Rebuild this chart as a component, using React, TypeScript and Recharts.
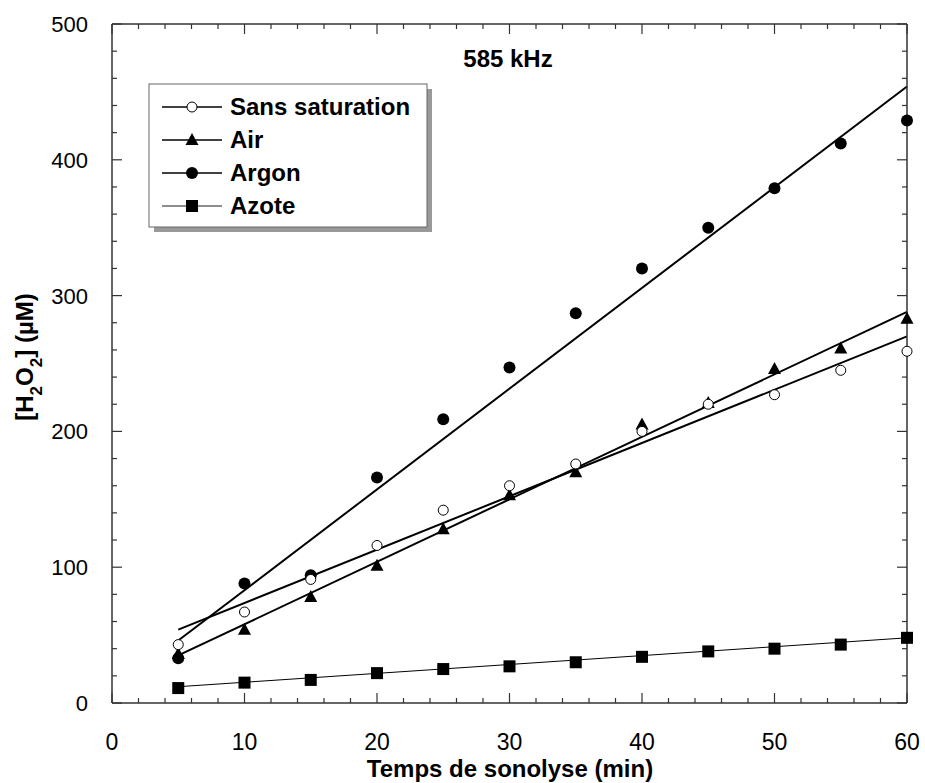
import {
  ComposedChart,
  Line,
  Scatter,
  XAxis,
  YAxis,
  Customized,
} from 'recharts';

// sonolysis time (min)
const times = [5, 10, 15, 20, 25, 30, 35, 40, 45, 50, 55, 60];

// [H2O2] (µM) per gas
const sansSaturation = [43, 67, 91, 116, 142, 160, 176, 200, 220, 227, 245, 259];
const air = [36, 54, 78, 101, 128, 153, 170, 205, 221, 246, 261, 283];
const argon = [33, 88, 94, 166, 209, 247, 287, 320, 350, 379, 412, 429];
const azote = [11, 15, 17, 22, 25, 27, 30, 34, 38, 40, 43, 48];

// linear fits, drawn between first and last time
const fitTimes = [5, 60];
const sansSaturationFit = [54, 270];
const airFit = [35, 288];
const argonFit = [46, 454];
const azoteFit = [12, 48];

const xMajor = [0, 10, 20, 30, 40, 50, 60];
const xMinor = [0, 2, 4, 6, 8, 10, 12, 14, 16, 18, 20, 22, 24, 26, 28, 30, 32, 34, 36, 38, 40, 42, 44, 46, 48, 50, 52, 54, 56, 58, 60];
const yMajor = [0, 100, 200, 300, 400, 500];
const yMinor = [0, 20, 40, 60, 80, 100, 120, 140, 160, 180, 200, 220, 240, 260, 280, 300, 320, 340, 360, 380, 400, 420, 440, 460, 480, 500];

const X_MIN = 0;
const X_MAX = 60;
const Y_MIN = 0;
const Y_MAX = 500;

const FONT = '"Liberation Sans", Arial, sans-serif';
const INK = '#000';
const FRAME = '#333';

const toPoints = (xs: number[], ys: number[]) => xs.map((x, i) => ({ x, y: ys[i] }));

// inward tick marks, placed on the frame through the axis scales
const bottomTicks = xMinor.map((x) => ({ x, y: Y_MIN, major: x % 10 === 0 }));
const topTicks = xMinor.map((x) => ({ x, y: Y_MAX, major: x % 10 === 0 }));
const leftTicks = yMinor.map((y) => ({ x: X_MIN, y, major: y % 100 === 0 }));
const rightTicks = yMinor.map((y) => ({ x: X_MAX, y, major: y % 100 === 0 }));

const tickLen = (major: boolean) => (major ? 10 : 5);
const UpTick = ({ cx, cy, payload }: any) => (
  <line x1={cx} x2={cx} y1={cy} y2={cy - tickLen(payload.major)} stroke={FRAME} strokeWidth={1.2} />
);
const DownTick = ({ cx, cy, payload }: any) => (
  <line x1={cx} x2={cx} y1={cy} y2={cy + tickLen(payload.major)} stroke={FRAME} strokeWidth={1.2} />
);
const RightwardTick = ({ cx, cy, payload }: any) => (
  <line x1={cx} x2={cx + tickLen(payload.major)} y1={cy} y2={cy} stroke={FRAME} strokeWidth={1.2} />
);
const LeftwardTick = ({ cx, cy, payload }: any) => (
  <line x1={cx} x2={cx - tickLen(payload.major)} y1={cy} y2={cy} stroke={FRAME} strokeWidth={1.2} />
);

const BottomLabel = (props: any) => {
  const { x, y, payload } = props;
  return (
    <text x={x} y={y + 47} textAnchor="middle" fontFamily={FONT} fontSize={23} fill={INK}>
      {payload.value}
    </text>
  );
};

const LeftLabel = (props: any) => {
  const { x, y, payload } = props;
  return (
    <text x={x - 24} y={y + 8} textAnchor="end" fontFamily={FONT} fontSize={22} fill={INK}>
      {payload.value}
    </text>
  );
};

const OpenCircle = ({ cx, cy }: any) => (
  <circle cx={cx} cy={cy} r={5} fill="#fff" stroke={INK} strokeWidth={1} />
);
const FilledCircle = ({ cx, cy }: any) => <circle cx={cx} cy={cy} r={6} fill={INK} />;
const Triangle = ({ cx, cy }: any) => (
  <path d={`M${cx},${cy - 7} L${cx + 6.5},${cy + 5} L${cx - 6.5},${cy + 5} Z`} fill={INK} />
);
const Square = ({ cx, cy }: any) => (
  <rect x={cx - 6} y={cy - 6} width={12} height={12} fill={INK} />
);

const legendRows = [
  { label: 'Sans saturation', Marker: OpenCircle, width: 1.6 },
  { label: 'Air', Marker: Triangle, width: 1.6 },
  { label: 'Argon', Marker: FilledCircle, width: 1.6 },
  { label: 'Azote', Marker: Square, width: 0.9 },
];

const Decorations = () => (
  <g>
    <text x={508} y={67} textAnchor="middle" fontFamily={FONT} fontWeight="bold" fontSize={24} fill={INK}>
      585 kHz
    </text>

    <text x={510} y={777} textAnchor="middle" fontFamily={FONT} fontWeight="bold" fontSize={24} fill={INK}>
      Temps de sonolyse (min)
    </text>

    <text
      transform="translate(33, 357) rotate(-90)"
      textAnchor="middle"
      fontFamily={FONT}
      fontWeight="bold"
      fontSize={24}
      fill={INK}
    >
      [H<tspan dy={9} fontSize={17}>2</tspan>
      <tspan dy={-9}>O</tspan>
      <tspan dy={9} fontSize={17}>2</tspan>
      <tspan dy={-9}>] (µM)</tspan>
    </text>

    <rect x={154} y={89} width={278} height={143} fill="#999" />
    <rect x={149} y={84} width={278} height={143} fill="#fff" stroke="#666" strokeWidth={1} />
    {legendRows.map(({ label, Marker, width }, i) => {
      const cy = 107 + i * 33;
      return (
        <g key={label}>
          <line x1={162} x2={222} y1={cy} y2={cy} stroke={INK} strokeWidth={width} />
          <Marker cx={192} cy={cy} />
          <text x={230} y={cy + 8} fontFamily={FONT} fontWeight="bold" fontSize={24} fill={INK}>
            {label}
          </text>
        </g>
      );
    })}
  </g>
);

const axisLine = { stroke: FRAME, strokeWidth: 1.5 };

export default function App() {
  return (
    <div style={{ position: 'absolute', left: 0, top: 0, width: 925, height: 783, background: '#fff' }}>
      <ComposedChart width={925} height={783} margin={{ top: 23, right: 17, bottom: 30, left: 52 }}>
        <XAxis xAxisId="b" dataKey="x" type="number" domain={[X_MIN, X_MAX]} ticks={xMajor} interval={0}
          height={50} tickSize={0} tickMargin={0} tickLine={false} axisLine={axisLine} tick={<BottomLabel />} />
        <XAxis xAxisId="t" orientation="top" dataKey="x" type="number" domain={[X_MIN, X_MAX]} ticks={xMajor} interval={0}
          height={1} tickSize={0} tickLine={false} axisLine={axisLine} tick={false} />
        <YAxis yAxisId="l" type="number" domain={[Y_MIN, Y_MAX]} ticks={yMajor} interval={0}
          width={60} tickSize={0} tickMargin={0} tickLine={false} axisLine={axisLine} tick={<LeftLabel />} />
        <YAxis yAxisId="r" orientation="right" type="number" domain={[Y_MIN, Y_MAX]} ticks={yMajor} interval={0}
          width={1} tickSize={0} tickLine={false} axisLine={axisLine} tick={false} />

        <Scatter xAxisId="b" yAxisId="l" data={bottomTicks} dataKey="y" shape={UpTick} isAnimationActive={false} />
        <Scatter xAxisId="b" yAxisId="l" data={leftTicks} dataKey="y" shape={RightwardTick} isAnimationActive={false} />
        <Scatter xAxisId="t" yAxisId="r" data={topTicks} dataKey="y" shape={DownTick} isAnimationActive={false} />
        <Scatter xAxisId="t" yAxisId="r" data={rightTicks} dataKey="y" shape={LeftwardTick} isAnimationActive={false} />

        <Line xAxisId="b" yAxisId="l" data={toPoints(fitTimes, argonFit)} dataKey="y" stroke={INK} strokeWidth={2} dot={false} isAnimationActive={false} />
        <Line xAxisId="b" yAxisId="l" data={toPoints(fitTimes, sansSaturationFit)} dataKey="y" stroke={INK} strokeWidth={2} dot={false} isAnimationActive={false} />
        <Line xAxisId="b" yAxisId="l" data={toPoints(fitTimes, airFit)} dataKey="y" stroke={INK} strokeWidth={2} dot={false} isAnimationActive={false} />
        <Line xAxisId="b" yAxisId="l" data={toPoints(fitTimes, azoteFit)} dataKey="y" stroke={INK} strokeWidth={1} dot={false} isAnimationActive={false} />

        <Scatter xAxisId="b" yAxisId="l" data={toPoints(times, argon)} dataKey="y" shape={FilledCircle} isAnimationActive={false} />
        <Scatter xAxisId="b" yAxisId="l" data={toPoints(times, air)} dataKey="y" shape={Triangle} isAnimationActive={false} />
        <Scatter xAxisId="b" yAxisId="l" data={toPoints(times, sansSaturation)} dataKey="y" shape={OpenCircle} isAnimationActive={false} />
        <Scatter xAxisId="b" yAxisId="l" data={toPoints(times, azote)} dataKey="y" shape={Square} isAnimationActive={false} />

        <Customized component={Decorations} />
      </ComposedChart>
    </div>
  );
}
